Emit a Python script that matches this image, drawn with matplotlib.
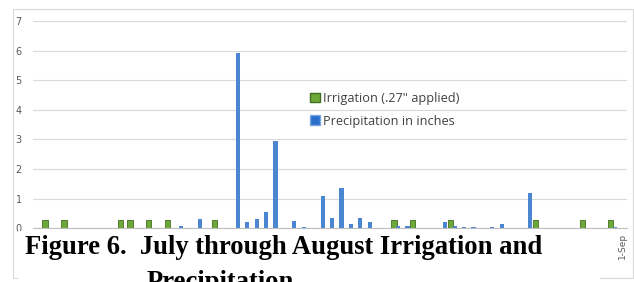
import numpy as np
import matplotlib.pyplot as plt
from matplotlib.patches import Patch, Rectangle

# Days from 1-Jul to 1-Sep (63 categories)
dates = ([f"{d}-Jul" for d in range(1, 32)] +
         [f"{d}-Aug" for d in range(1, 32)] + ["1-Sep"])

irrigation = [
    0, .27, 0, .27, 0, 0, 0, 0, 0, .27,
    .27, 0, .27, 0, .27, 0, 0, 0, 0, .27,
    0, 0, 0, 0, 0, 0, 0, 0, 0, 0,
    0, 0, 0, 0, 0, 0, 0, 0, .27, 0,
    .27, 0, 0, 0, .27, 0, 0, 0, 0, 0,
    0, 0, 0, .27, 0, 0, 0, 0, .27, 0,
    0, .27, 0,
]

precip = [
    0, 0, 0, 0, 0, 0, 0, 0, 0, 0,
    0, 0, 0, 0, 0, .07, 0, .30, 0, 0,
    0, 5.93, .22, .30, .54, 2.94, 0, .26, .05, 0,
    1.08, .35, 1.37, .13, .35, .22, 0, 0, .08, .07,
    0, 0, 0, .20, .07, .05, .03, 0, .03, .15,
    0, 0, 1.20, 0, 0, 0, 0, 0, 0, 0,
    0, .05, 0,
]

# only the last date label is left visible beside the caption
label_ticks = [62]
green = '#6fa83a'
blue = '#4a86d2'

fig = plt.figure(figsize=(6.34, 2.82), dpi=100)
W, H = 634, 282

# outer chart border
fig.patches.append(Rectangle((13 / W, 4 / H), 620 / W, 269 / H, transform=fig.transFigure,
                             fill=False, edgecolor='#d9d9d9', linewidth=0.8))

ax = fig.add_axes([33 / W, 53.7 / H, 594 / W, 207.3 / H])
x = np.arange(len(dates))
irr = np.array(irrigation)
pr = np.array(precip)
ax.bar(x[irr > 0] - 0.22, irr[irr > 0], width=0.55, color=green,
       edgecolor='#3f6e1c', linewidth=0.6)
ax.bar(x[pr > 0] + 0.22, pr[pr > 0], width=0.45, color=blue)

ax.set_xlim(-0.5, len(dates) - 0.5)
ax.set_ylim(0, 7)
ax.set_yticks(range(8))
ax.yaxis.grid(True, color='#d9d9d9', linewidth=0.8)
ax.set_axisbelow(True)
for s in ['top', 'right', 'left']:
    ax.spines[s].set_visible(False)
ax.spines['bottom'].set_color('#bfbfbf')
ax.tick_params(axis='y', length=0, pad=8, labelsize=7, labelcolor='#595959')
ax.set_xticks(label_ticks, labels=[dates[i] for i in label_ticks], rotation=90)
ax.tick_params(axis='x', length=0, pad=3.5, labelsize=6.5, labelcolor='#595959')

handles = [Patch(facecolor=green, edgecolor='#3f6e1c'),
           Patch(facecolor='#2a6fcc', edgecolor='#7aa6e0')]
fig.legend(handles, ['Irrigation (.27" applied)', 'Precipitation in inches'],
           loc='upper left', bbox_to_anchor=(310 / W, 1 - 92 / H), frameon=False,
           prop={'family': 'Open Sans', 'size': 9.2}, labelcolor='#404040',
           handlelength=0.8, handleheight=0.8, handletextpad=0.25,
           labelspacing=0.75, borderpad=0, borderaxespad=0)

# caption pasted over the chart
fig.patches.append(Rectangle((18 / W, 0), 582 / W, 51 / H, transform=fig.transFigure,
                             facecolor='white', edgecolor='none', zorder=5))
fig.text(25 / W, 1 - 254 / H, "Figure 6.  July through August Irrigation and",
         family='Liberation Serif', weight='bold', fontsize=19.2, va='baseline', zorder=6)
fig.text(147 / W, 1 - 289 / H, "Precipitation",
         family='Liberation Serif', weight='bold', fontsize=19.2, va='baseline', zorder=6)

fig.savefig('out.png', dpi=100)
